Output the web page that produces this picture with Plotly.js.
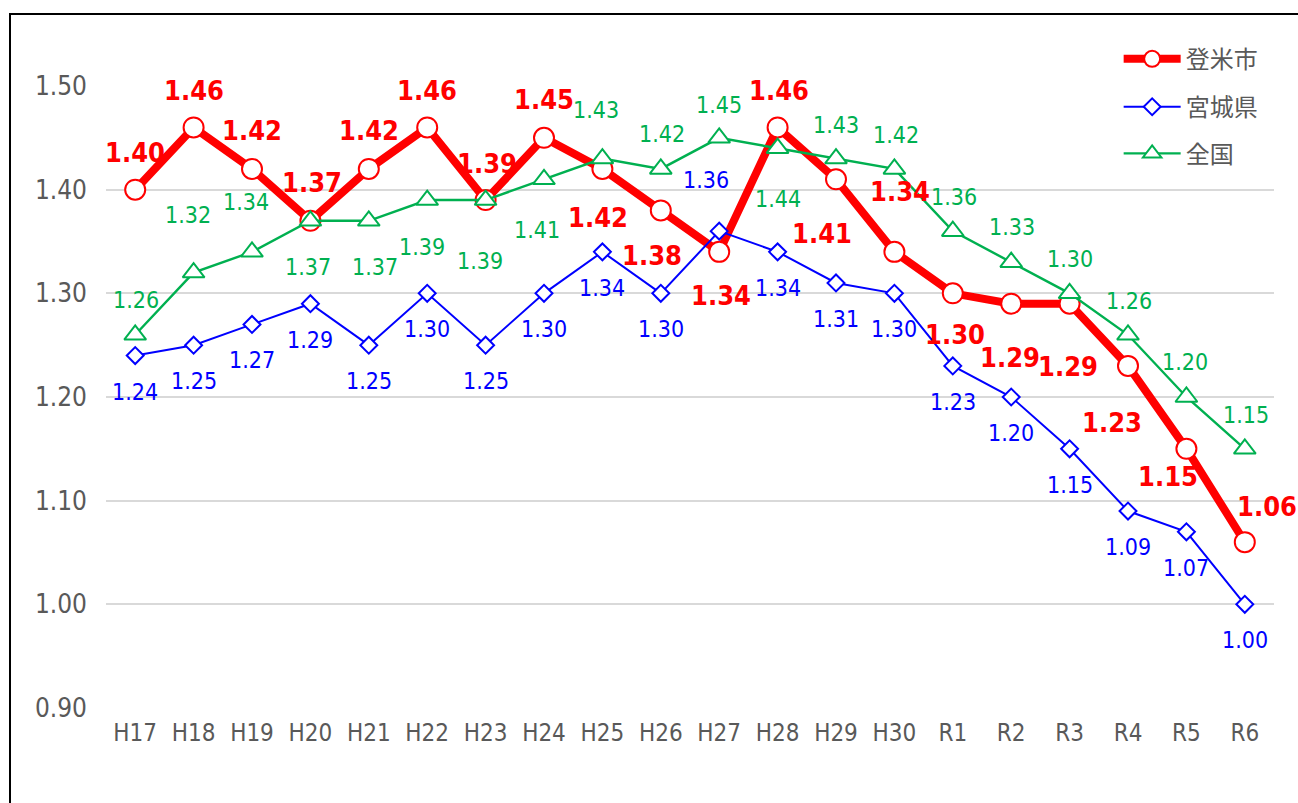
<!DOCTYPE html>
<html>
<head>
<meta charset="utf-8">
<script src="https://cdn.plot.ly/plotly-3.0.1.min.js"></script>
<style>
  html, body { margin: 0; padding: 0; background: #ffffff; overflow: hidden; }
  #wrap { position: relative; width: 1298px; height: 803px; }
  #frame { position: absolute; left: 9px; top: 13px; width: 1400px; height: 900px;
           border-left: 2px solid #000; border-top: 2px solid #000; }
  #chart { position: absolute; left: 0; top: 0; width: 1298px; height: 803px; }
</style>
</head>
<body>
<div id="wrap">
  <div id="frame"></div>
  <div id="chart"></div>
</div>
<script>
// ---- data ----
const years = ['H17','H18','H19','H20','H21','H22','H23','H24','H25','H26','H27','H28','H29','H30','R1','R2','R3','R4','R5','R6'];
const tome    = [1.40,1.46,1.42,1.37,1.42,1.46,1.39,1.45,1.42,1.38,1.34,1.46,1.41,1.34,1.30,1.29,1.29,1.23,1.15,1.06];
const miyagi  = [1.24,1.25,1.27,1.29,1.25,1.30,1.25,1.30,1.34,1.30,1.36,1.34,1.31,1.30,1.23,1.20,1.15,1.09,1.07,1.00];
const zenkoku = [1.26,1.32,1.34,1.37,1.37,1.39,1.39,1.41,1.43,1.42,1.45,1.44,1.43,1.42,1.36,1.33,1.30,1.26,1.20,1.15];
const seriesNames = ['登米市','宮城県','全国'];
const yTicks = [0.90,1.00,1.10,1.20,1.30,1.40,1.50];

// ---- label placement (pixel offsets from point, [dx, dy down]) ----
const tomeOff = [[0,-37],[0,-37],[0,-38],[2,-38],[0,-38],[0,-37],[1,-37],[0,-38],[-4,49],[-9,45],
                 [2,44],[1,-37],[-14,54],[6,-60],[2,41],[-1,54],[-2,63],[-16,57],[-18,28],[22,-36]];
const zenOff  = [[1,-35],[-6,-58],[-6,-50],[-2,46],[6,46],[-5,47],[-6,61],[-7,51],[-6,-49],[1,-35],
                 [0,-33],[0,51],[0,-34],[2,-34],[1,-34],[1,-35],[0,-34],[1,-34],[-1,-35],[1,-34]];
const miyOff  = years.map((_, i) => i === 10 ? [-13,-51] : [0,36]);

const RED = '#FF0000', BLUE = '#0000FF', GREEN = '#00B050', GRAY = '#595959';
const NUMFONT = '"Liberation Sans Narrow", "DejaVu Sans Condensed", sans-serif';
const CJK = '"Noto Sans CJK JP", "Noto Sans", sans-serif';

const traces = [
  { x: years, y: tome, name: seriesNames[0], type: 'scatter', mode: 'lines+markers', legend: 'legend',
    line: { color: RED, width: 8 },
    marker: { symbol: 'circle', size: 20, color: '#ffffff', line: { color: RED, width: 2 } } },
  { x: years, y: miyagi, name: seriesNames[1], type: 'scatter', mode: 'lines+markers', legend: 'legend2',
    line: { color: BLUE, width: 2 },
    marker: { symbol: 'diamond', size: 13, color: '#ffffff', line: { color: BLUE, width: 2 } } },
  { x: years, y: zenkoku, name: seriesNames[2], type: 'scatter', mode: 'lines+markers', legend: 'legend3',
    line: { color: GREEN, width: 2.4 },
    marker: { symbol: 'triangle-up', size: 19, color: '#ffffff', line: { color: GREEN, width: 2 } } }
];

const annotations = [];
function addLabels(vals, offs, color, size, bold) {
  vals.forEach((v, i) => {
    annotations.push({
      x: years[i], y: v, xref: 'x', yref: 'y',
      text: bold ? '<b>' + v.toFixed(2) + '</b>' : v.toFixed(2),
      showarrow: false, xanchor: 'center', yanchor: 'middle',
      xshift: offs[i][0], yshift: -offs[i][1],
      font: { family: NUMFONT, size: size, color: color }
    });
  });
}
addLabels(tome, tomeOff, RED, 27, true);
addLabels(miyagi, miyOff, BLUE, 23, false);
addLabels(zenkoku, zenOff, GREEN, 23, false);

const legendBase = {
  xref: 'paper', yref: 'paper', xanchor: 'left', yanchor: 'middle',
  bgcolor: 'rgba(0,0,0,0)', borderwidth: 0, itemwidth: 57,
  font: { family: CJK, size: 24, color: GRAY }
};

const layout = {
  width: 1298, height: 803,
  margin: { l: 106, r: 24, t: 86, b: 95, pad: 0 },
  paper_bgcolor: 'rgba(0,0,0,0)', plot_bgcolor: 'rgba(0,0,0,0)',
  showlegend: true,
  legend:  Object.assign({}, legendBase, { x: 0.867, y: 1.043 }),
  legend2: Object.assign({}, legendBase, { x: 0.867, y: 0.966 }),
  legend3: Object.assign({}, legendBase, { x: 0.867, y: 0.891 }),
  xaxis: {
    type: 'category', range: [-0.5, 19.5], showgrid: false, zeroline: false, showline: false,
    ticks: '', tickfont: { family: NUMFONT, size: 24, color: GRAY }, ticklabelstandoff: 8
  },
  yaxis: {
    range: [0.9, 1.5], tickvals: yTicks, ticktext: yTicks.map(v => v.toFixed(2)),
    showgrid: true, gridcolor: '#D9D9D9', gridwidth: 2, zeroline: false, showline: false,
    ticks: '', tickfont: { family: NUMFONT, size: 26, color: GRAY }, ticklabelstandoff: 18
  },
  annotations: annotations
};

Plotly.newPlot('chart', traces, layout, { displayModeBar: false, staticPlot: true });
</script>
</body>
</html>
